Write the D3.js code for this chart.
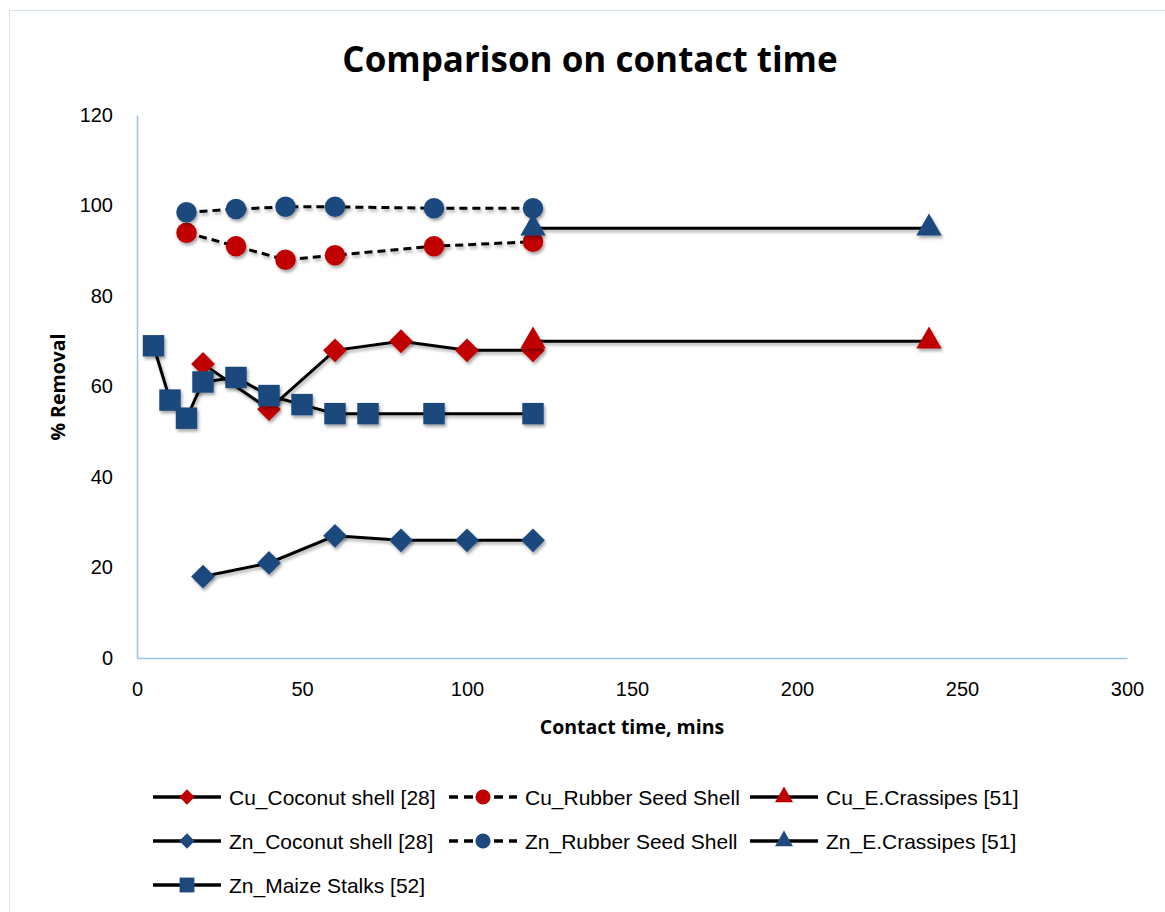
<!DOCTYPE html>
<html>
<head>
<meta charset="utf-8">
<script src="https://cdn.jsdelivr.net/npm/d3@7"></script>
<style>
  body { margin: 0; background: #fff; }
  svg { display: block; }
</style>
</head>
<body>
<svg id="chart" width="1165" height="912"></svg>
<script>
// contact time (mins) and % removal per series
const cuCoconutX = [20, 40, 60, 80, 100, 120];
const cuCoconutY = [65, 55, 68, 70, 68, 68];
const cuRubberX = [15, 30, 45, 60, 90, 120];
const cuRubberY = [94, 91, 88, 89, 91, 92];
const cuCrassipesX = [120, 240];
const cuCrassipesY = [70, 70];
const znCoconutX = [20, 40, 60, 80, 100, 120];
const znCoconutY = [18, 21, 27, 26, 26, 26];
const znRubberX = [15, 30, 45, 60, 90, 120];
const znRubberY = [98.5, 99.2, 99.7, 99.7, 99.4, 99.4];
const znCrassipesX = [120, 240];
const znCrassipesY = [95, 95];
const znMaizeX = [5, 10, 15, 20, 30, 40, 50, 60, 70, 90, 120];
const znMaizeY = [69, 57, 53, 61, 62, 58, 56, 54, 54, 54, 54];

const xTicks = [0, 50, 100, 150, 200, 250, 300];
const yTicks = [0, 20, 40, 60, 80, 100, 120];

const RED = "#c00000";
const BLUE = "#1f497d";

const series = [
    { name: "Cu_Coconut shell [28]", xs: cuCoconutX, ys: cuCoconutY, color: RED, shape: "diamond", dash: null },
    { name: "Cu_Rubber Seed Shell", xs: cuRubberX, ys: cuRubberY, color: RED, shape: "circle", dash: "8,5" },
    { name: "Cu_E.Crassipes [51]", xs: cuCrassipesX, ys: cuCrassipesY, color: RED, shape: "triangle", dash: null },
    { name: "Zn_Coconut shell [28]", xs: znCoconutX, ys: znCoconutY, color: BLUE, shape: "diamond", dash: null },
    { name: "Zn_Rubber Seed Shell", xs: znRubberX, ys: znRubberY, color: BLUE, shape: "circle", dash: "8,5" },
    { name: "Zn_E.Crassipes [51]", xs: znCrassipesX, ys: znCrassipesY, color: BLUE, shape: "triangle", dash: null },
    { name: "Zn_Maize Stalks [52]", xs: znMaizeX, ys: znMaizeY, color: BLUE, shape: "square", dash: null }
];

const svg = d3.select("#chart");

// chart border
svg.append("rect")
    .attr("x", 9.5).attr("y", 10.5)
    .attr("width", 1160).attr("height", 920)
    .attr("fill", "none")
    .attr("stroke", "#d6e3f3")
    .attr("stroke-width", 1);

// drop shadows: one for markers, one in user space for lines (flat lines have no bbox height)
const defs = svg.append("defs");
const markShadow = defs.append("filter").attr("id", "shadow")
    .attr("x", "-50%").attr("y", "-50%").attr("width", "200%").attr("height", "200%");
markShadow.append("feDropShadow")
    .attr("dx", 1.5).attr("dy", 2.5).attr("stdDeviation", 1.8)
    .attr("flood-color", "#000").attr("flood-opacity", 0.35);
const lineShadow = defs.append("filter").attr("id", "lineShadow")
    .attr("filterUnits", "userSpaceOnUse")
    .attr("x", 0).attr("y", 0).attr("width", 1165).attr("height", 912);
lineShadow.append("feDropShadow")
    .attr("dx", 1.5).attr("dy", 2.5).attr("stdDeviation", 1.8)
    .attr("flood-color", "#000").attr("flood-opacity", 0.3);

const x = d3.scaleLinear().domain([0, 300]).range([137, 1127]);
const y = d3.scaleLinear().domain([0, 120]).range([658, 115]);

svg.append("text")
    .attr("x", 590).attr("y", 72)
    .attr("text-anchor", "middle")
    .style("font-family", "'Open Sans', sans-serif")
    .style("font-weight", "bold")
    .style("font-size", "35px")
    .text("Comparison on contact time");

// axes
const axisColor = "#9dc3e6";
const gx = svg.append("g")
    .attr("transform", `translate(0,${y(0)})`)
    .call(d3.axisBottom(x).tickValues(xTicks).tickSize(0).tickPadding(24));
const gy = svg.append("g")
    .attr("transform", `translate(${x(0)},0)`)
    .call(d3.axisLeft(y).tickValues(yTicks).tickSize(0).tickPadding(24));
[gx, gy].forEach(g => {
    g.select(".domain").attr("stroke", axisColor).attr("stroke-width", 1.5);
    g.selectAll("text")
        .style("font-family", "'Liberation Sans', Arial, sans-serif")
        .style("font-size", "20px")
        .attr("fill", "#000");
});

svg.append("text")
    .attr("x", 632).attr("y", 734)
    .attr("text-anchor", "middle")
    .style("font-family", "'Open Sans', sans-serif")
    .style("font-weight", "bold")
    .style("font-size", "19.5px")
    .text("Contact time, mins");

svg.append("text")
    .attr("transform", "translate(65,387) rotate(-90)")
    .attr("text-anchor", "middle")
    .style("font-family", "'Open Sans', sans-serif")
    .style("font-weight", "bold")
    .style("font-size", "19.5px")
    .text("% Removal");

const symbolFor = {
    diamond: d3.symbol().type(d3.symbolDiamond2).size(360),
    circle: d3.symbol().type(d3.symbolCircle).size(330),
    triangle: d3.symbol().type(d3.symbolTriangle).size(280),
    square: d3.symbol().type(d3.symbolSquare).size(460)
};
const legendSymbolFor = {
    diamond: d3.symbol().type(d3.symbolDiamond2).size(150),
    circle: d3.symbol().type(d3.symbolCircle).size(180),
    triangle: d3.symbol().type(d3.symbolTriangle).size(140),
    square: d3.symbol().type(d3.symbolSquare).size(220)
};

const line = d3.line().x(d => x(d[0])).y(d => y(d[1]));

series.forEach(s => {
    const pts = s.xs.map((v, i) => [v, s.ys[i]]);
    const g = svg.append("g");
    g.append("path")
        .attr("d", line(pts))
        .attr("fill", "none")
        .attr("stroke", "#000")
        .attr("stroke-width", 3)
        .attr("stroke-dasharray", s.dash)
        .attr("filter", "url(#lineShadow)");
    g.selectAll("path.mk")
        .data(pts)
        .join("path")
        .attr("class", "mk")
        .attr("d", symbolFor[s.shape])
        .attr("transform", d => `translate(${x(d[0])},${y(d[1])})`)
        .attr("fill", s.color)
        .attr("filter", "url(#shadow)");
});

// legend
const colX = [153, 449, 750];
const rowY = [797, 841, 885];
series.forEach((s, i) => {
    const lx = colX[i % 3];
    const ly = rowY[Math.floor(i / 3)];
    const g = svg.append("g").attr("transform", `translate(${lx},${ly})`);
    g.append("line")
        .attr("x1", 0).attr("x2", 68)
        .attr("stroke", "#000")
        .attr("stroke-width", 3.5)
        .attr("stroke-dasharray", s.dash ? "9,6" : null);
    g.append("path")
        .attr("d", legendSymbolFor[s.shape])
        .attr("transform", "translate(34,0)")
        .attr("fill", s.color);
    g.append("text")
        .attr("x", 76).attr("y", 7.5)
        .style("font-family", "'Liberation Sans', Arial, sans-serif")
        .style("font-size", "21px")
        .text(s.name);
});
</script>
</body>
</html>
